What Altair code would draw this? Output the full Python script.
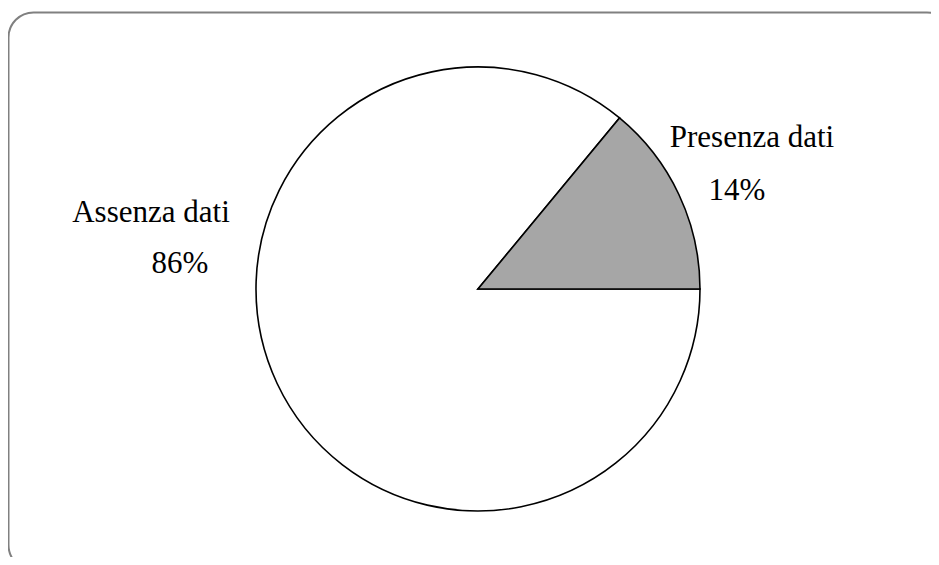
import math
import altair as alt
import pandas as pd

categories = ["Assenza dati", "Presenza dati"]
values = [86, 14]
pct_labels = ["86%", "14%"]
colors = ["#ffffff", "#a6a6a6"]

df = pd.DataFrame({
    "cat": categories,
    "value": values,
    "pct": pct_labels,
    "order": list(range(len(categories))),
})

W, H = 923, 549
CX, CY, R = 470, 281, 222

frame = alt.Chart(pd.DataFrame({"k": [0]})).mark_rect(
    fill=None, stroke="#808080", strokeWidth=2, cornerRadius=25, clip=False
).encode(
    x=alt.value(0.5), x2=alt.value(944), y=alt.value(4.5), y2=alt.value(562)
)

pie = alt.Chart(df).mark_arc(
    stroke="black", strokeWidth=1.6, radius=R
).encode(
    theta=alt.Theta("value:Q", stack=True,
                    scale=alt.Scale(range=[math.pi / 2, math.pi / 2 + 2 * math.pi])),
    order=alt.Order("order:Q"),
    color=alt.Color("cat:N", scale=alt.Scale(domain=categories, range=colors), legend=None),
    x=alt.value(CX),
    y=alt.value(CY),
)

font = dict(font="Liberation Serif", fontSize=31, color="black", baseline="alphabetic", align="center")

def label(cat, field, x, y):
    return alt.Chart(df).transform_filter(alt.datum.cat == cat).mark_text(**font).encode(
        text=alt.Text(f"{field}:N"), x=alt.value(x), y=alt.value(y)
    )

chart = alt.layer(
    frame,
    pie,
    label("Presenza dati", "cat", 744, 139),
    label("Presenza dati", "pct", 729, 192),
    label("Assenza dati", "cat", 143, 214),
    label("Assenza dati", "pct", 172, 265),
).properties(
    width=W, height=H, padding=0, autosize=alt.AutoSizeParams(type="none")
).configure_view(stroke=None)

chart.save("out.html", embed_options={"renderer": "svg", "actions": False})
